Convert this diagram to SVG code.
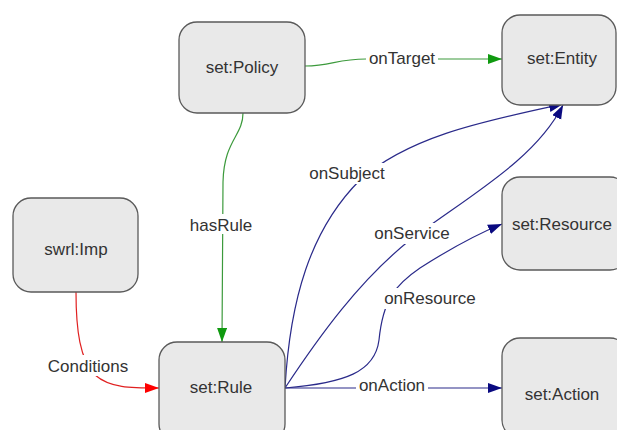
<svg xmlns="http://www.w3.org/2000/svg" width="617" height="430" viewBox="0 0 617 430">
  <style>
    .node rect { fill: #e9e9e9; stroke: #5a5a5a; stroke-width: 1.3; }
    text { font-family: "Liberation Sans", Arial, sans-serif; font-size: 17px; fill: #333333; text-anchor: middle; }
    .edge { fill: none; stroke-width: 1.2; }
    .green { stroke: #3c9a3c; }
    .blue { stroke: #2a2a8a; }
    .red { stroke: #e02020; }
    .lblbg { fill: #ffffff; }
  </style>
  <defs>
    <marker id="arrow-green" markerUnits="userSpaceOnUse" markerWidth="15" markerHeight="11" refX="14" refY="5" orient="auto">
      <path d="M0,0 L14,5 L0,10 z" fill="#109a10"/>
    </marker>
    <marker id="arrow-blue" markerUnits="userSpaceOnUse" markerWidth="15" markerHeight="11" refX="14" refY="5" orient="auto">
      <path d="M0,0 L14,5 L0,10 z" fill="#0a0a80"/>
    </marker>
    <marker id="arrow-red" markerUnits="userSpaceOnUse" markerWidth="15" markerHeight="11" refX="14" refY="5" orient="auto">
      <path d="M0,0 L14,5 L0,10 z" fill="#ff0000"/>
    </marker>
  </defs>

  <rect width="617" height="430" fill="#ffffff"/>

  <!-- connectors -->
  <g id="edges">
    <path class="edge green" d="M305,66 C332,66 336,59 366,59 L502,59" marker-end="url(#arrow-green)"/>
    <path class="edge green" d="M243,113 C243,136 224,140 223,182 L222,342" marker-end="url(#arrow-green)"/>
    <path class="edge red" d="M76,292 C76,330 80,360 95,375 C110,388 130,388 159,388" marker-end="url(#arrow-red)"/>
    <path class="edge blue" d="M285,388 L502,388" marker-end="url(#arrow-blue)"/>
    <path class="edge blue" d="M285,388 C345,383 375,372 379,340 C383,300 395,285 420,268 C445,252 470,237 502,224" marker-end="url(#arrow-blue)"/>
    <path class="edge blue" d="M285,388 C320,335 360,280 410,240 C470,195 535,160 563,105" marker-end="url(#arrow-blue)"/>
    <path class="edge blue" d="M285,388 C290,300 310,230 360,180 C410,135 490,120 563,104" marker-end="url(#arrow-blue)"/>

    <!-- edge labels -->
    <rect class="lblbg" x="366" y="49" width="72" height="19"/>
    <text x="402" y="64">onTarget</text>
    <rect class="lblbg" x="189" y="214" width="65" height="20"/>
    <text x="221" y="231">hasRule</text>
    <rect class="lblbg" x="45" y="355" width="86" height="21"/>
    <text x="88" y="372">Conditions</text>
    <rect class="lblbg" x="356" y="376" width="72" height="19"/>
    <text x="392" y="391">onAction</text>
    <rect class="lblbg" x="306" y="163" width="83" height="21"/>
    <text x="347" y="179">onSubject</text>
    <rect class="lblbg" x="371" y="223" width="82" height="21"/>
    <text x="412" y="239">onService</text>
    <rect class="lblbg" x="380" y="288" width="99" height="21"/>
    <text x="430" y="304">onResource</text>
  </g>

  <!-- nodes -->
  <g id="policy" class="node">
    <rect x="179" y="22" width="126" height="91" rx="18"/>
    <text x="242" y="73">set:Policy</text>
  </g>
  <g id="entity" class="node">
    <rect x="502" y="15" width="114" height="90" rx="18"/>
    <text x="562" y="64">set:Entity</text>
  </g>
  <g id="imp" class="node">
    <rect x="13" y="198" width="125" height="94" rx="18"/>
    <text x="76" y="255">swrl:Imp</text>
  </g>
  <g id="resource" class="node">
    <rect x="502" y="177" width="126" height="93" rx="18"/>
    <text x="562" y="230">set:Resource</text>
  </g>
  <g id="rule" class="node">
    <rect x="159" y="342" width="126" height="100" rx="18"/>
    <text x="221" y="393">set:Rule</text>
  </g>
  <g id="action" class="node">
    <rect x="502" y="338" width="126" height="100" rx="18"/>
    <text x="562" y="400">set:Action</text>
  </g>
</svg>
